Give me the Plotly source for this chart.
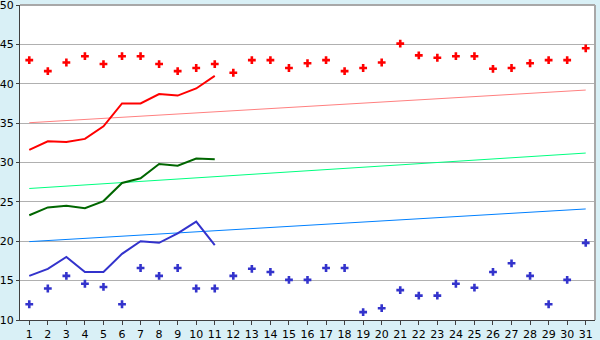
import plotly.graph_objects as go

days = list(range(1, 32))
red_pts = [43.0, 41.6, 42.7, 43.5, 42.5, 43.5, 43.5, 42.5, 41.6, 42.0,
           42.5, 41.4, 43.0, 43.0, 42.0, 42.6, 43.0, 41.6, 42.0, 42.7,
           45.1, 43.6, 43.3, 43.5, 43.5, 41.9, 42.0, 42.6, 43.0, 43.0, 44.5]
blue_pts = [12.0, 14.0, 15.6, 14.6, 14.2, 12.0, 16.6, 15.6, 16.6, 14.0,
            14.0, 15.6, 16.5, 16.1, 15.1, 15.1, 16.6, 16.6, 11.0, 11.5,
            13.8, 13.1, 13.1, 14.6, 14.1, 16.1, 17.2, 15.6, 12.0, 15.1, 19.8]
line_days = list(range(1, 12))
red_line = [31.6, 32.7, 32.6, 33.0, 34.6, 37.5, 37.5, 38.7, 38.5, 39.4, 41.0]
green_line = [23.3, 24.3, 24.5, 24.2, 25.1, 27.4, 28.0, 29.8, 29.6, 30.5, 30.4]
blue_line = [15.6, 16.5, 18.0, 16.1, 16.1, 18.4, 20.0, 19.8, 21.0, 22.5, 19.5]
trend_days = [1, 31]
red_trend = [35.05, 39.2]
green_trend = [26.7, 31.2]
blue_trend = [19.95, 24.1]

fig = go.Figure()
fig.add_trace(go.Scatter(x=trend_days, y=red_trend, mode="lines", line=dict(color="#ff8080", width=1)))
fig.add_trace(go.Scatter(x=trend_days, y=green_trend, mode="lines", line=dict(color="#00ff80", width=1)))
fig.add_trace(go.Scatter(x=trend_days, y=blue_trend, mode="lines", line=dict(color="#0080ff", width=1)))
fig.add_trace(go.Scatter(x=line_days, y=red_line, mode="lines", line=dict(color="#ff0000", width=2)))
fig.add_trace(go.Scatter(x=line_days, y=green_line, mode="lines", line=dict(color="#006600", width=2)))
fig.add_trace(go.Scatter(x=line_days, y=blue_line, mode="lines", line=dict(color="#3333cc", width=2)))
fig.add_trace(go.Scatter(x=days, y=red_pts, mode="markers",
                         marker=dict(symbol="cross", size=6.5, color="#ff0000", line=dict(width=0))))
fig.add_trace(go.Scatter(x=days, y=blue_pts, mode="markers",
                         marker=dict(symbol="cross", size=6.5, color="#3333cc", line=dict(width=0))))

fig.add_shape(type="line", xref="paper", yref="paper", x0=0, x1=1, y0=1, y1=1,
              line=dict(color="#a8a8a8", width=2))
fig.add_shape(type="line", xref="paper", yref="paper", x0=1, x1=1, y0=0, y1=1,
              line=dict(color="#a8a8a8", width=2))

fig.update_layout(
    width=600, height=340,
    margin=dict(l=20, r=5, t=5, b=20, autoexpand=False),
    paper_bgcolor="#d9f0f6", plot_bgcolor="#ffffff",
    showlegend=False,
    font=dict(family="DejaVu Sans", size=11, color="#000000"),
)
fig.update_xaxes(range=[0.5, 31.5], tickmode="array", tickvals=days, ticktext=[str(d) for d in days],
                 showgrid=False, showline=True, linecolor="#404040", linewidth=1,
                 ticks="outside", ticklen=4, tickcolor="#404040", zeroline=False,
                 ticklabeloverflow="allow", automargin=False)
fig.update_yaxes(range=[10, 50], dtick=5, showgrid=True, gridcolor="#b0b0b0", gridwidth=1,
                 showline=True, linecolor="#404040", linewidth=1,
                 ticks="outside", ticklen=3, tickcolor="#404040", zeroline=False,
                 ticklabeloverflow="allow", automargin=False)

fig.write_html("out.html")
